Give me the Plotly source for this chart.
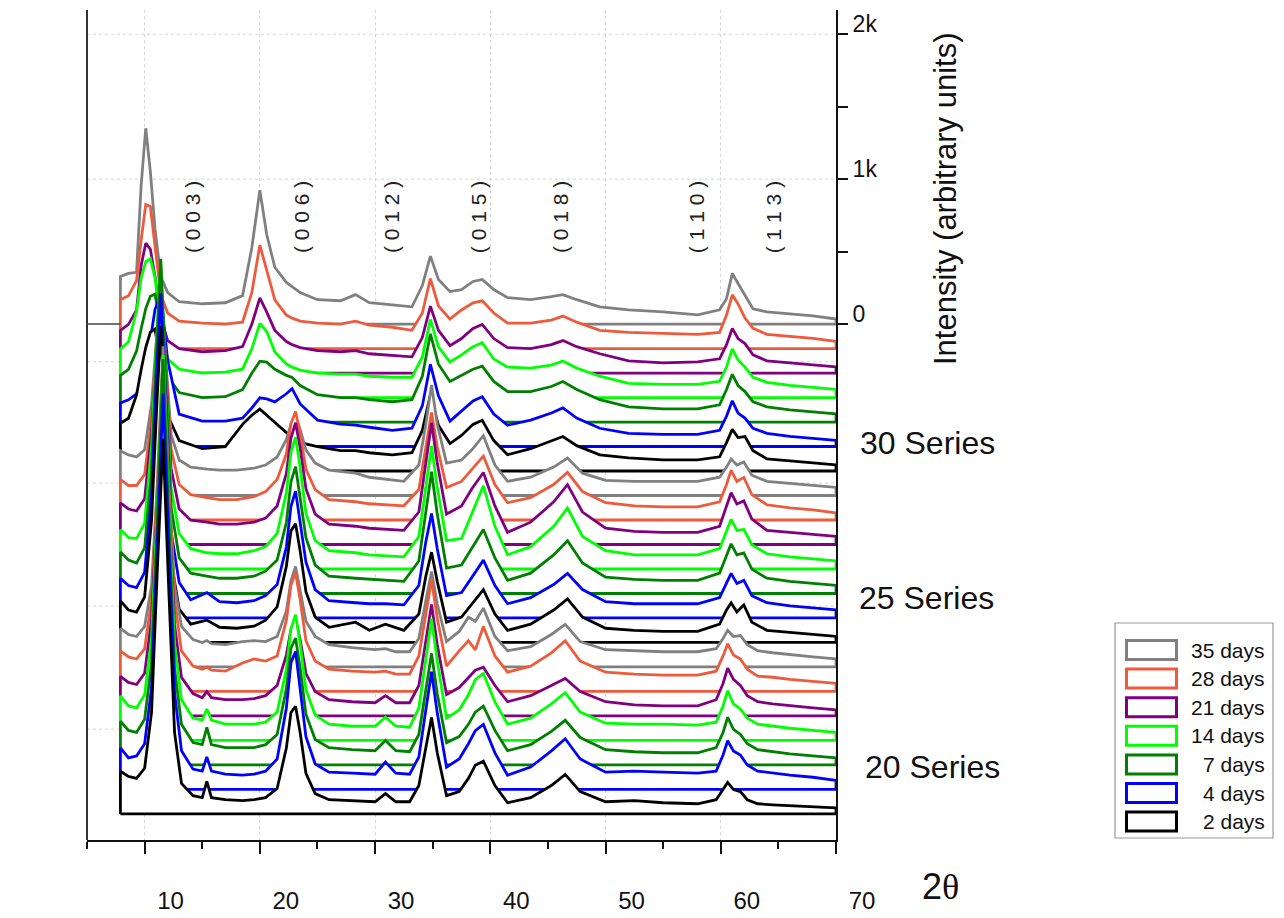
import plotly.graph_objects as go

# ---------------------------------------------------------------------------
# Data: XRD patterns (intensity in counts above each pattern's own baseline)
# ---------------------------------------------------------------------------
AGES = ["35 days", "28 days", "21 days", "14 days", "7 days", "4 days", "2 days"]
COLORS = ["#808080", "#EE5A3C", "#800080", "#00FF00", "#008000", "#0000FF", "#000000"]
SERIES_NAMES = ["30 Series", "25 Series", "20 Series"]
PEAK_LABELS = ["( 0 0 3 )", "( 0 0 6 )", "( 0 1 2 )", "( 0 1 5 )", "( 0 1 8 )", "( 1 1 0 )", "( 1 1 3 )"]
PEAK_LABEL_POS = [14.22, 23.68, 31.49, 38.96, 46.16, 57.88, 64.57]

two_theta_30 = [7.9, 8.6, 9.3, 9.7, 10.1, 10.5, 10.9, 11.4, 12.0, 13.0, 15.0, 17.0, 18.5, 19.3,
                20.0, 20.6, 21.3, 22.3, 22.8, 23.5, 25.0, 27.0, 28.3, 29.5, 31.5, 33.2, 34.1,
                34.8, 35.5, 36.5, 37.5, 38.5, 39.3, 40.3, 41.5, 43.5, 45.3, 46.3, 47.5, 49.5,
                52.0, 55.0, 58.0, 59.9, 60.5, 61.0, 61.5, 62.1, 62.8, 64.0, 66.0, 68.0, 70.0]

s30_35d = [329, 350, 357, 959, 1351, 1050, 658, 329, 217, 154, 140, 147, 196, 525, 924, 616,
           392, 287, 259, 217, 168, 161, 203, 147, 133, 119, 266, 469, 308, 224, 238, 294, 308,
           238, 182, 168, 189, 203, 168, 119, 98, 84, 63, 98, 175, 350, 280, 196, 105, 84, 70,
           56, 35]
s30_28d = [336, 364, 469, 749, 994, 980, 700, 371, 245, 189, 175, 168, 182, 385, 714, 546,
           336, 231, 210, 189, 175, 168, 189, 161, 147, 126, 245, 483, 294, 203, 266, 315, 329,
           245, 175, 175, 196, 224, 182, 126, 112, 105, 98, 112, 231, 371, 308, 210, 140, 98,
           84, 70, 49]
s30_21d = [294, 336, 434, 742, 896, 854, 665, 385, 224, 168, 147, 154, 182, 336, 518, 420,
           294, 217, 196, 175, 154, 147, 154, 133, 119, 112, 245, 462, 294, 189, 238, 308, 336,
           238, 175, 168, 196, 224, 182, 133, 84, 70, 77, 98, 196, 308, 238, 203, 126, 84, 70,
           56, 42]
s30_14d = [336, 385, 595, 826, 938, 959, 826, 490, 266, 196, 168, 175, 196, 336, 511, 455,
           315, 231, 210, 189, 168, 161, 161, 147, 140, 140, 280, 539, 350, 245, 294, 350, 378,
           266, 210, 203, 224, 252, 203, 147, 98, 91, 91, 112, 210, 336, 259, 210, 140, 105,
           84, 70, 56]
s30_7d = [322, 364, 490, 644, 784, 868, 882, 665, 315, 203, 168, 175, 224, 336, 420, 413,
          364, 322, 308, 252, 189, 168, 168, 154, 140, 154, 315, 609, 399, 280, 322, 364, 385,
          280, 210, 210, 245, 280, 224, 154, 105, 91, 91, 119, 224, 329, 252, 210, 140, 105,
          84, 70, 56]
s30_4d = [301, 322, 364, 434, 560, 735, 945, 1050, 595, 224, 175, 175, 196, 266, 336, 329,
          308, 364, 399, 294, 182, 154, 147, 133, 112, 126, 280, 567, 350, 175, 245, 315, 343,
          224, 147, 182, 231, 266, 196, 126, 91, 84, 84, 112, 210, 315, 231, 196, 126, 91, 70,
          56, 42]
s30_2d = [329, 364, 525, 700, 854, 959, 980, 735, 385, 210, 154, 168, 322, 385, 427, 385,
          336, 266, 231, 196, 168, 140, 140, 126, 112, 126, 280, 525, 315, 189, 245, 322, 350,
          210, 112, 154, 210, 238, 175, 112, 91, 77, 77, 98, 196, 287, 231, 238, 140, 84, 70,
          56, 42]

two_theta_25 = [7.9, 8.6, 9.3, 10.0, 10.6, 11.0, 11.4, 11.8, 12.3, 13.0, 14.0, 15.4, 16.5,
                18.0, 19.5, 20.5, 21.5, 22.3, 22.7, 23.1, 23.5, 24.0, 24.8, 26.0, 28.3, 29.5,
                30.9, 32.5, 33.8, 34.4, 34.9, 35.4, 36.2, 37.5, 38.4, 39.4, 40.4, 41.5, 43.5,
                45.5, 46.7, 48.0, 50.0, 52.5, 55.0, 58.0, 59.9, 60.5, 60.9, 61.4, 62.0, 62.7,
                64.0, 66.0, 68.0, 70.0]

s25_35d = [308, 280, 266, 315, 630, 1050, 1372, 980, 420, 245, 196, 182, 175, 175, 189, 210,
           266, 385, 490, 553, 455, 315, 224, 175, 154, 126, 112, 98, 210, 490, 763, 490, 224,
           245, 315, 413, 210, 98, 126, 196, 259, 154, 105, 98, 98, 98, 126, 196, 252, 210,
           231, 140, 98, 84, 70, 56]
s25_28d = [280, 238, 238, 315, 700, 1190, 1610, 1120, 490, 245, 175, 154, 140, 140, 161, 196,
           280, 455, 665, 749, 595, 350, 210, 140, 126, 112, 105, 98, 210, 490, 742, 504, 224,
           266, 350, 441, 245, 119, 154, 245, 329, 196, 119, 98, 91, 91, 126, 245, 343, 266,
           294, 175, 105, 84, 70, 49]
s25_21d = [287, 245, 231, 315, 770, 1330, 1848, 1260, 525, 245, 168, 154, 140, 140, 154, 182,
           266, 490, 735, 840, 665, 385, 210, 140, 126, 112, 105, 98, 224, 560, 840, 560, 210,
           266, 385, 497, 266, 84, 154, 294, 413, 224, 112, 91, 84, 84, 126, 266, 357, 280,
           301, 175, 98, 84, 70, 56]
s25_14d = [273, 217, 210, 315, 840, 1540, 2100, 1400, 560, 245, 140, 112, 105, 105, 126, 154,
           245, 525, 805, 910, 700, 385, 196, 126, 112, 98, 91, 84, 224, 560, 847, 560, 196,
           210, 385, 574, 294, 98, 154, 294, 420, 224, 126, 98, 98, 98, 140, 266, 343, 266,
           273, 168, 105, 84, 70, 56]
s25_7d = [287, 231, 210, 315, 840, 1610, 2310, 1540, 595, 245, 140, 119, 105, 105, 119, 154,
          231, 490, 770, 875, 665, 385, 196, 119, 105, 98, 91, 84, 224, 560, 840, 546, 175, 196,
          315, 441, 245, 91, 140, 266, 364, 210, 112, 98, 91, 91, 140, 266, 343, 266, 280, 168,
          105, 84, 70, 56]
s25_4d = [273, 224, 210, 315, 840, 1610, 2240, 1540, 595, 245, 126, 175, 112, 105, 119, 154,
          231, 490, 770, 875, 665, 385, 196, 119, 105, 98, 98, 91, 224, 525, 721, 476, 154, 175,
          280, 399, 224, 98, 140, 231, 308, 196, 112, 98, 98, 98, 140, 245, 308, 238, 259, 154,
          105, 84, 70, 56]
s25_2d = [287, 224, 210, 315, 840, 1540, 2184, 1470, 560, 231, 126, 154, 105, 98, 112, 154,
          245, 525, 770, 819, 630, 350, 175, 105, 140, 84, 126, 84, 196, 455, 623, 420, 140, 175,
          266, 364, 196, 84, 126, 224, 301, 175, 98, 84, 77, 77, 126, 224, 273, 210, 259, 140,
          84, 70, 56, 42]

two_theta_20 = [7.9, 8.6, 9.3, 10.0, 10.6, 11.1, 11.6, 12.1, 12.6, 13.2, 14.2, 15.0, 15.4,
                15.8, 17.0, 18.5, 19.5, 20.5, 21.5, 22.3, 22.7, 23.1, 23.5, 24.0, 24.8, 26.0,
                28.0, 30.0, 30.9, 31.8, 33.0, 33.8, 34.4, 34.9, 35.4, 36.2, 37.3, 38.1, 38.7,
                39.4, 40.4, 41.5, 43.5, 45.3, 46.5, 47.8, 50.0, 52.5, 55.0, 58.0, 59.6, 60.2,
                60.6, 61.1, 61.7, 62.3, 63.2, 64.5, 66.0, 68.0, 70.0]

s20_35d = [266, 224, 210, 280, 560, 1260, 2212, 1260, 560, 280, 189, 168, 182, 161, 154, 175,
           182, 175, 210, 385, 595, 693, 525, 315, 210, 154, 133, 119, 126, 105, 105, 196, 455,
           658, 434, 175, 245, 343, 315, 406, 210, 112, 140, 224, 294, 175, 119, 112, 105, 105,
           126, 196, 252, 210, 217, 154, 112, 98, 84, 70, 56]
s20_28d = [280, 238, 224, 294, 630, 1400, 2310, 1400, 630, 280, 175, 154, 168, 147, 140, 196,
           224, 210, 245, 490, 735, 819, 630, 350, 210, 154, 140, 133, 140, 119, 119, 245, 525,
           770, 504, 175, 280, 350, 287, 448, 245, 133, 175, 266, 350, 210, 133, 119, 112, 112,
           140, 245, 329, 252, 224, 154, 105, 98, 84, 70, 56]
s20_21d = [273, 231, 217, 294, 665, 1470, 2450, 1470, 630, 266, 154, 126, 168, 126, 112, 112,
           119, 140, 210, 420, 595, 665, 525, 294, 168, 112, 98, 91, 140, 91, 91, 210, 525, 770,
           490, 147, 196, 266, 315, 336, 210, 98, 140, 210, 259, 168, 98, 77, 70, 70, 112, 224,
           329, 252, 210, 140, 98, 84, 70, 56, 42]
s20_14d = [308, 238, 224, 315, 700, 1610, 2660, 1610, 665, 280, 154, 140, 217, 140, 112, 112,
           112, 126, 196, 490, 770, 868, 665, 350, 175, 112, 98, 98, 161, 98, 91, 224, 560, 840,
           546, 154, 210, 315, 420, 462, 266, 112, 154, 252, 329, 196, 119, 112, 112, 105, 126,
           238, 343, 252, 217, 154, 112, 98, 84, 70, 56]
s20_7d = [301, 238, 224, 315, 700, 1680, 2800, 1680, 665, 280, 154, 140, 259, 140, 119, 119,
          119, 140, 210, 525, 805, 875, 665, 350, 175, 119, 105, 98, 168, 98, 91, 210, 525, 770,
          490, 154, 196, 280, 364, 406, 238, 98, 140, 231, 308, 189, 105, 91, 84, 84, 119, 224,
          329, 245, 210, 147, 105, 91, 77, 63, 49]
s20_4d = [287, 217, 231, 315, 700, 1680, 2730, 1680, 665, 266, 140, 126, 224, 126, 105, 98,
          105, 126, 210, 560, 875, 952, 700, 364, 175, 119, 112, 105, 189, 112, 105, 224, 546,
          812, 525, 154, 210, 315, 406, 448, 252, 98, 154, 266, 350, 210, 119, 126, 119, 112,
          126, 238, 336, 266, 238, 168, 126, 112, 98, 84, 63]
s20_2d = [294, 259, 245, 315, 700, 1680, 2590, 1540, 560, 210, 126, 112, 224, 112, 98, 91, 98,
          112, 175, 455, 700, 742, 560, 280, 140, 98, 91, 84, 140, 84, 84, 196, 455, 665, 420,
          126, 154, 245, 336, 364, 196, 77, 112, 196, 273, 154, 84, 91, 77, 70, 98, 175, 217,
          168, 154, 98, 70, 63, 56, 49, 42]

SERIES_DATA = [
    (two_theta_30, [s30_35d, s30_28d, s30_21d, s30_14d, s30_7d, s30_4d, s30_2d]),
    (two_theta_25, [s25_35d, s25_28d, s25_21d, s25_14d, s25_7d, s25_4d, s25_2d]),
    (two_theta_20, [s20_35d, s20_28d, s20_21d, s20_14d, s20_7d, s20_4d, s20_2d]),
]

# ---------------------------------------------------------------------------
# Layout constants
# ---------------------------------------------------------------------------
W, H = 1284, 918
ML, MR, MT, MB = 87, 448, 10, 78
OFFSET_STEP = 169            # vertical waterfall spacing (counts)
Y_RANGE = [-3560, 2167]
X_RANGE = [5, 70]
FONT = "Arial, Liberation Sans, sans-serif"


def px_x(px):
    return (px - ML) / (W - ML - MR)


def px_y(py):
    return (H - MB - py) / (H - MT - MB)


fig = go.Figure()

# Waterfall: back patterns first so front ones (white-filled) hide them
k = 0
for theta, patterns in SERIES_DATA:
    for age, color, counts in zip(AGES, COLORS, patterns):
        base = -OFFSET_STEP * k
        xs = [theta[0]] + list(theta) + [theta[-1], theta[0]]
        ys = [base] + [base + c for c in counts] + [base, base]
        fig.add_trace(go.Scatter(
            x=xs, y=ys, mode="lines", fill="toself", fillcolor="white",
            line=dict(color=color, width=2.8), hoverinfo="skip", showlegend=False,
        ))
        k += 1

shapes = []
# horizontal dotted grid lines
for gy in [2000, 1000, -260, -1097, -1946, -2795]:
    shapes.append(dict(type="line", xref="x", yref="y", x0=X_RANGE[0], x1=X_RANGE[1],
                       y0=gy, y1=gy, layer="below",
                       line=dict(color="#d4d4d4", width=1, dash="dot")))
# left frame line of the plot box
shapes.append(dict(type="line", xref="paper", yref="paper", x0=0, x1=0, y0=0, y1=1,
                   line=dict(color="#333333", width=2)))
# floor edge between the left frame and the first pattern
shapes.append(dict(type="line", xref="x", yref="y", x0=X_RANGE[0], x1=two_theta_30[0],
                   y0=0, y1=0, line=dict(color="#444444", width=1.5)))

# custom legend
shapes.append(dict(type="rect", xref="paper", yref="paper",
                   x0=px_x(1115), x1=px_x(1273), y0=px_y(838), y1=px_y(623),
                   line=dict(color="#9a9a9a", width=1.2), fillcolor="white"))
annotations = []
for i, (age, color) in enumerate(zip(AGES, COLORS)):
    cy = 650 + 28.6 * i
    shapes.append(dict(type="rect", xref="paper", yref="paper",
                       x0=px_x(1126.5), x1=px_x(1176.5), y0=px_y(cy + 9.5), y1=px_y(cy - 9.5),
                       line=dict(color=color, width=3), fillcolor="white"))
    annotations.append(dict(x=px_x(1267), y=px_y(cy), xref="paper", yref="paper",
                            text=age, showarrow=False, xanchor="right", yanchor="middle",
                            font=dict(family=FONT, size=21, color="#111111")))

# Miller index labels
for lab, xp in zip(PEAK_LABELS, PEAK_LABEL_POS):
    annotations.append(dict(x=xp, y=740, xref="x", yref="y", text=lab, showarrow=False,
                            textangle=-90, xanchor="center", yanchor="middle",
                            font=dict(family=FONT, size=21, color="#222222")))

# series labels
for name, lx, ly in zip(SERIES_NAMES, [858, 857, 863], [443, 598, 767]):
    annotations.append(dict(x=px_x(lx), y=px_y(ly), xref="paper", yref="paper", text=name,
                            showarrow=False, xanchor="left", yanchor="middle",
                            font=dict(family=FONT, size=32, color="#111111")))

# axis titles
annotations.append(dict(x=px_x(945), y=px_y(199), xref="paper", yref="paper",
                        text="Intensity (arbitrary units)", showarrow=False, textangle=-90,
                        xanchor="center", yanchor="middle",
                        font=dict(family=FONT, size=31, color="#111111")))
annotations.append(dict(x=px_x(941), y=px_y(886), xref="paper", yref="paper",
                        text='2<span style="font-family:Liberation Serif">θ</span>',
                        showarrow=False, xanchor="center", yanchor="middle",
                        font=dict(family=FONT, size=36, color="#111111")))

fig.update_layout(
    width=W, height=H, margin=dict(l=ML, r=MR, t=MT, b=MB, autoexpand=False),
    paper_bgcolor="white", plot_bgcolor="white",
    font=dict(family=FONT, color="#111111"),
    showlegend=False,
    shapes=shapes, annotations=annotations,
    xaxis=dict(range=X_RANGE, showline=True, linecolor="#111111", linewidth=2,
               ticks="outside", ticklen=12, tickwidth=2, tickcolor="#111111",
               tick0=0, dtick=10, tickfont=dict(size=24, family=FONT),
               ticklabelshift=26, ticklabelstandoff=26, automargin=False,
               showgrid=True, gridcolor="#d4d4d4", griddash="dot", gridwidth=1,
               zeroline=False,
               minor=dict(dtick=5, tick0=0, ticks="outside", ticklen=7, tickwidth=2,
                          tickcolor="#111111", showgrid=False)),
    yaxis=dict(range=Y_RANGE, side="right", showline=True, automargin=False,
               linecolor="#111111", linewidth=2, ticks="outside", ticklen=10, tickwidth=2,
               tickcolor="#111111", tickmode="array", tickvals=[0, 500, 1000, 1500, 2000],
               ticktext=["0", "", "1k", "", "2k"], tickfont=dict(size=23, family=FONT),
               ticklabelshift=-10, showgrid=False, zeroline=False),
)

fig.write_html("out.html")
